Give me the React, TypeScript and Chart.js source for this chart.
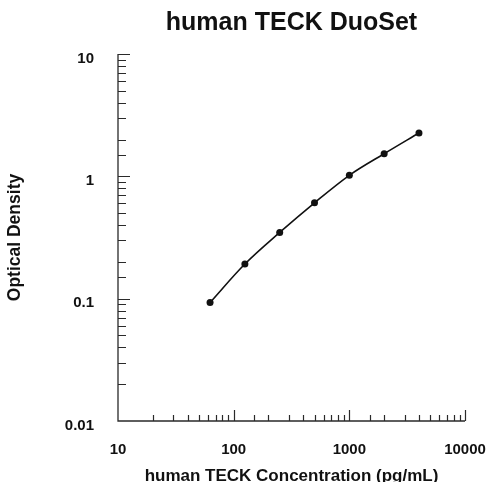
import React, { useEffect, useRef } from "react";
import { Chart, registerables } from "chart.js";

Chart.register(...registerables);

const concentrations = [62.5, 125, 250, 500, 1000, 2000, 4000];
const opticalDensity = [0.093, 0.192, 0.348, 0.608, 1.02, 1.53, 2.26];
const xRange = [10, 10000];
const yRange = [0.01, 10];
const chartTitle = "human TECK DuoSet";
const xTitle = "human TECK Concentration (pg/mL)";
const yTitle = "Optical Density";

const FONT = "'Liberation Sans', Arial, Helvetica, sans-serif";

const isPow10 = (v: number) => Math.abs(Math.log10(v) - Math.round(Math.log10(v))) < 1e-9;

const axisPlugin = {
  id: "axisTicks",
  afterDatasetsDraw(chart: any) {
    const { ctx, chartArea } = chart;
    const xs = chart.scales.x;
    const ys = chart.scales.y;
    ctx.save();
    ctx.strokeStyle = "#2a2a2a";
    ctx.lineWidth = 1.3;
    ctx.beginPath();
    ctx.moveTo(chartArea.left, chartArea.top);
    ctx.lineTo(chartArea.left, chartArea.bottom);
    ctx.lineTo(chartArea.right, chartArea.bottom);
    ctx.stroke();
    ctx.lineWidth = 1.2;
    ctx.beginPath();
    for (const t of xs.ticks) {
      if (t.value <= xRange[0] * 1.0001) continue;
      const px = Math.round(xs.getPixelForValue(t.value)) + 0.5;
      const len = isPow10(t.value) ? 11 : 6;
      ctx.moveTo(px, chartArea.bottom);
      ctx.lineTo(px, chartArea.bottom - len);
    }
    for (const t of ys.ticks) {
      if (t.value <= yRange[0] * 1.0001) continue;
      const py = Math.round(ys.getPixelForValue(t.value)) + 0.5;
      const len = isPow10(t.value) ? 12 : 8;
      ctx.moveTo(chartArea.left, py);
      ctx.lineTo(chartArea.left + len, py);
    }
    ctx.stroke();
    ctx.restore();
  },
};

export default function App() {
  const ref = useRef<HTMLCanvasElement | null>(null);
  useEffect(() => {
    if (!ref.current) return;
    const chart = new Chart(ref.current, {
      type: "line",
      data: {
        datasets: [
          {
            data: concentrations.map((x, i) => ({ x, y: opticalDensity[i] })),
            borderColor: "#111",
            backgroundColor: "#111",
            borderWidth: 1.6,
            pointRadius: 3.5,
            pointBorderWidth: 0,
            pointBackgroundColor: "#111",
            tension: 0.4,
            cubicInterpolationMode: "monotone",
            fill: false,
          },
        ],
      },
      options: {
        responsive: false,
        animation: false,
        devicePixelRatio: 1,
        layout: { padding: { left: 0, right: 24, top: 0, bottom: 0 } },
        plugins: {
          legend: { display: false },
          tooltip: { enabled: false },
          title: { display: false },
        },
        scales: {
          x: {
            type: "logarithmic",
            min: xRange[0],
            max: xRange[1],
            grid: { display: false, drawTicks: false },
            border: { display: false },
            afterFit: (s: any) => {
              s.height = 61;
              s.paddingLeft = 0;
              s.paddingRight = 0;
            },
            ticks: {
              autoSkip: false,
              maxRotation: 0,
              padding: 20,
              color: "#111",
              font: { family: FONT, size: 15, weight: "bold" },
              callback: (v: any) => (isPow10(Number(v)) ? String(Number(v)) : ""),
            },
            title: {
              display: true,
              text: xTitle,
              color: "#111",
              font: { family: FONT, size: 17, weight: "bold", lineHeight: 1 },
              padding: { top: 0, bottom: -3 },
            },
          },
          xTop: {
            type: "linear",
            position: "top",
            min: 0,
            max: 1,
            grid: { display: false, drawTicks: false },
            border: { display: false },
            ticks: { display: false },
            afterFit: (s: any) => {
              s.height = 54;
              s.paddingLeft = 0;
              s.paddingRight = 0;
            },
            title: {
              display: true,
              text: chartTitle,
              color: "#111",
              font: { family: FONT, size: 25, weight: "bold", lineHeight: 1.2 },
              padding: { top: 8, bottom: 0 },
            },
          },
          y: {
            type: "logarithmic",
            min: yRange[0],
            max: yRange[1],
            grid: { display: false, drawTicks: false },
            border: { display: false },
            afterFit: (s: any) => {
              s.width = 118;
            },
            ticks: {
              autoSkip: false,
              padding: 24,
              color: "#111",
              font: { family: FONT, size: 15, weight: "bold", lineHeight: 0.6 },
              callback: (v: any) => (isPow10(Number(v)) ? ["", String(Number(v))] : ""),
            },
            title: {
              display: true,
              text: yTitle,
              color: "#111",
              font: { family: FONT, size: 17.5, weight: "bold" },
              padding: { top: 5, bottom: 0 },
            },
          },
        },
      },
      plugins: [axisPlugin],
    });
    return () => chart.destroy();
  }, []);
  return (
    <div style={{ position: "fixed", left: 0, top: 0, width: 489, height: 482, background: "#fff" }}>
      <canvas ref={ref} width={489} height={482} style={{ display: "block", width: 489, height: 482 }} />
    </div>
  );
}
